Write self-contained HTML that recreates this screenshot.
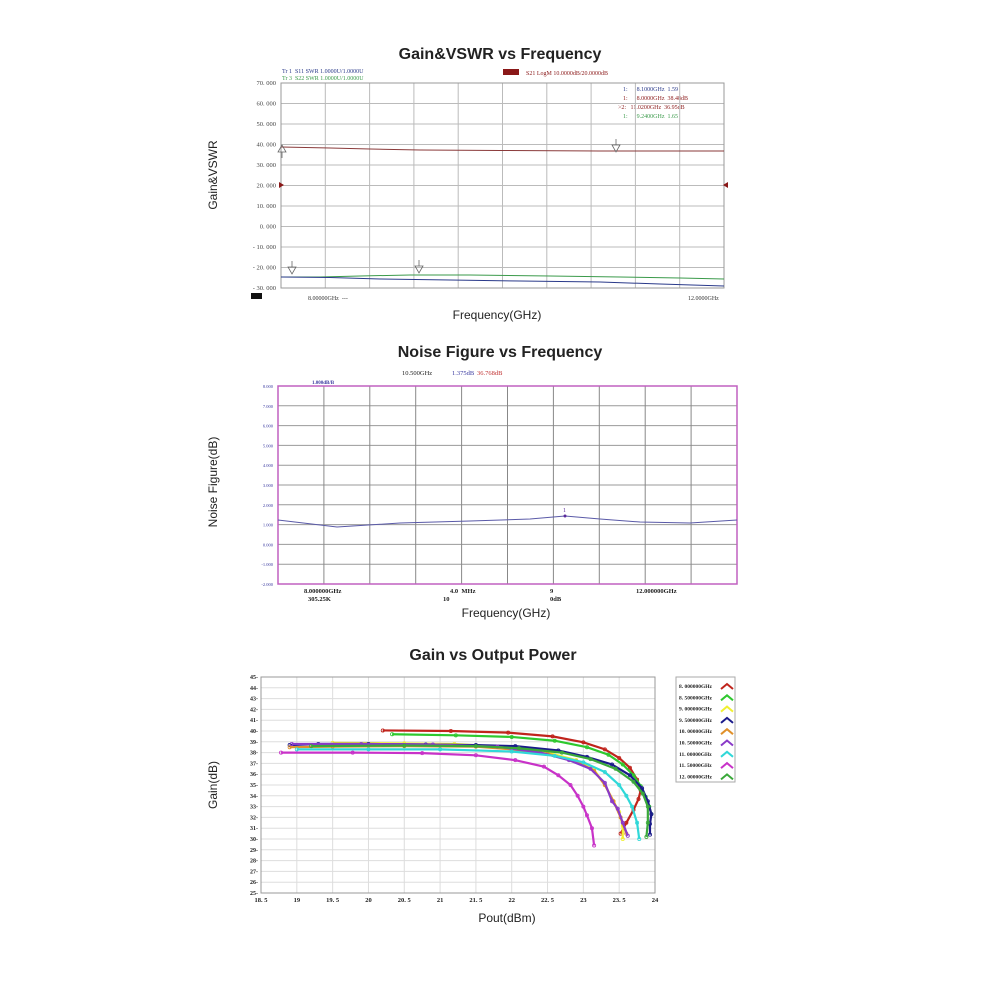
<!DOCTYPE html>
<html><head><meta charset="utf-8"><style>
body{margin:0;background:#fff;width:1000px;height:1000px;overflow:hidden}
svg{display:block}
text{font-family:"Liberation Serif",serif;white-space:pre}
.t{font-family:"Liberation Sans",sans-serif;font-weight:bold;font-size:16px;fill:#222}
.l{font-family:"Liberation Sans",sans-serif;font-size:12px;fill:#222}
</style></head><body>
<svg id="s" width="1000" height="1000" xmlns="http://www.w3.org/2000/svg">
<text class="t" x="500" y="59" text-anchor="middle">Gain&amp;VSWR vs Frequency</text>
<text class="l" x="0" y="0" text-anchor="middle" transform="translate(217,175) rotate(-90)">Gain&amp;VSWR</text>
<text class="l" x="497" y="319" text-anchor="middle">Frequency(GHz)</text>
<text class="t" x="500" y="357" text-anchor="middle">Noise Figure vs Frequency</text>
<text class="l" x="0" y="0" text-anchor="middle" transform="translate(217,482) rotate(-90)">Noise Figure(dB)</text>
<text class="l" x="506" y="617" text-anchor="middle">Frequency(GHz)</text>
<text class="t" x="493" y="660" text-anchor="middle">Gain vs Output Power</text>
<text class="l" x="0" y="0" text-anchor="middle" transform="translate(217,785) rotate(-90)">Gain(dB)</text>
<text class="l" x="507" y="922" text-anchor="middle">Pout(dBm)</text>

<text x="282" y="73" font-size="6" fill="#2a3a8a">Tr 1  S11 SWR 1.0000U/1.0000U</text>
<text x="282" y="80" font-size="6" fill="#3a9a4a">Tr 3  S22 SWR 1.0000U/1.0000U</text>
<rect x="503" y="69" width="16" height="6" fill="#8a1818"/>
<text x="526" y="75" font-size="6" fill="#8a1818">S21 LogM 10.0000dB/20.0000dB</text>
<text x="623" y="91" font-size="6" fill="#2a3a8a">1:      8.1000GHz  1.59</text>
<text x="623" y="100" font-size="6" fill="#8a1818">1:      8.0000GHz  38.48dB</text>
<text x="618" y="109" font-size="6" fill="#8a1818">&gt;2:   11.0200GHz  36.95dB</text>
<text x="623" y="118" font-size="6" fill="#3a9a4a">1:      9.2400GHz  1.65</text>
<rect x="251" y="293" width="11" height="6" fill="#111"/>
<text x="308" y="300" font-size="6" fill="#333">8.00000GHz  ---</text>
<text x="688" y="300" font-size="6" fill="#333">12.0000GHz</text>

<text x="402" y="375" font-size="6.5" fill="#222">10.500GHz</text>
<text x="452" y="375" font-size="6.5" fill="#3a3aa0">1.375dB</text>
<text x="477" y="375" font-size="6.5" fill="#c03030">36.768dB</text>
<text x="312" y="384" font-size="5" fill="#3a3aa0" font-weight="bold">1.000dB/B</text>
<g font-size="6.5" fill="#222" font-weight="bold">
<text x="304" y="593">8.000000GHz</text><text x="308" y="601">305.25K</text>
<text x="450" y="593">4.0  MHz</text><text x="443" y="601">10</text>
<text x="550" y="593">9</text><text x="550" y="601">0dB</text>
<text x="636" y="593">12.000000GHz</text>
</g>
<g id="dyn"></g>
</svg>
<script>
const NS="http://www.w3.org/2000/svg",g=document.getElementById("dyn");
function el(t,a,txt){const e=document.createElementNS(NS,t);for(const k in a)e.setAttribute(k,a[k]);if(txt!==undefined)e.textContent=txt;g.appendChild(e);return e;}
function line(x1,y1,x2,y2,c,w){el("line",{x1,y1,x2,y2,stroke:c,"stroke-width":w||1});}
{const L=281,R=724,T=83,B=288;
for(let i=0;i<=10;i++){const y=T+(B-T)*i/10;line(L,y,R,y,"#bbb");el("text",{x:L-5,y:y+2,"font-size":6.5,"text-anchor":"end",fill:"#444"},(70-10*i).toFixed(3).replace(".",". ").replace("-","- "));}
for(let i=1;i<10;i++){const x=L+(R-L)*i/10;line(x,T,x,B,"#bbb");}
el("rect",{x:L,y:T,width:R-L,height:B-T,fill:"none",stroke:"#999"});
el("polyline",{points:`${L},147 330,148 370,149 420,150 500,150.5 600,151 ${R},151`,fill:"none",stroke:"#8a3a3a","stroke-width":1});
el("polyline",{points:`${L},277 320,277 360,276 410,275 470,275 550,276 620,277 680,278 ${R},279`,fill:"none",stroke:"#3a9a4a","stroke-width":1});
el("polyline",{points:`${L},277 330,277.5 380,279 450,280 520,281 600,282 660,284 ${R},286`,fill:"none",stroke:"#2a3a8a","stroke-width":1});
el("path",{d:"M279,182 l5,3 l-5,3z",fill:"#8a1818"});el("path",{d:"M728,182 l-5,3 l5,3z",fill:"#8a1818"});
[[282,152,-1],[292,267,1],[419,266,1],[616,145,1]].forEach(([x,y,d])=>{el("path",{d:d>0?`M${x-4},${y} h8 l-4,7z M${x},${y-6} v6`:`M${x-4},${y} h8 l-4,-7z M${x},${y} v6`,fill:"none",stroke:"#666","stroke-width":0.8});});
}
{const L=278,R=737,T=386,B=584;
for(let i=0;i<=10;i++){const y=T+(B-T)*i/10;line(L,y,R,y,"#999");el("text",{x:L-5,y:y+2,"font-size":4.5,"text-anchor":"end",fill:"#3a3aa0"},(8-i).toFixed(3));}
for(let i=1;i<10;i++){const x=L+(R-L)*i/10;line(x,T,x,B,"#888");}
el("rect",{x:L,y:T,width:R-L,height:B-T,fill:"none",stroke:"#c060c0","stroke-width":1.5});
el("polyline",{points:`${L},520 337,527 400,523 470,521 530,519 565,516 600,519 640,522 690,523 ${R},520`,fill:"none",stroke:"#5a5aa8","stroke-width":1});
el("circle",{cx:565,cy:516,r:1.5,fill:"#5a2a9a"});el("text",{x:563,y:512,"font-size":6,fill:"#5a2a9a"},"1");
}
{const L=261,R=655,T=677,B=893;const X=v=>L+(v-18.5)*(R-L)/5.5,Y=v=>T+(45-v)*(B-T)/20;
for(let i=0;i<=20;i++){const y=Y(45-i);line(L,y,R,y,"#ddd");el("text",{x:L-3,y:y+2,"font-size":6,"text-anchor":"end",fill:"#222","font-weight":"bold"},(45-i)+"-");}
for(let i=0;i<=11;i++){const v=18.5+i*0.5,x=X(v);line(x,T,x,B,"#ddd");el("text",{x:x,y:B+9,"font-size":6.5,"text-anchor":"middle",fill:"#222","font-weight":"bold"},(v%1?v.toFixed(1).replace("."," ."):v.toString()).replace(" .",". "));}
el("rect",{x:L,y:T,width:R-L,height:B-T,fill:"none",stroke:"#999"});
const S=[
["#c0241c","8.000000GHz",[[20.2,40.05],[21.15,40],[21.95,39.85],[22.57,39.5],[23,38.95],[23.3,38.3],[23.5,37.5],[23.65,36.6],[23.75,35.5],[23.8,34.5],[23.77,33.7],[23.7,32.7],[23.6,31.5],[23.52,30.5]]],
["#2ec82e","8.500000GHz",[[20.33,39.7],[21.22,39.6],[22,39.45],[22.6,39.1],[23.05,38.5],[23.35,37.8],[23.55,36.9],[23.7,35.9],[23.8,34.9],[23.87,33.9],[23.92,33],[23.95,32.3]]],
["#f0f030","9.000000GHz",[[19.5,38.9],[20.5,38.85],[21.2,38.8],[22,38.5],[22.5,38],[22.9,37.3],[23.15,36.4],[23.3,35],[23.42,33.5],[23.5,32.5],[23.55,31.2],[23.55,30]]],
["#1a1a8a","9.500000GHz",[[18.9,38.7],[19.3,38.8],[20,38.8],[20.8,38.75],[21.5,38.7],[22.05,38.6],[22.65,38.2],[23.05,37.6],[23.4,36.9],[23.65,35.9],[23.82,34.7],[23.9,33.5],[23.95,32.3],[23.93,31.4],[23.93,30.4]]],
["#e0902a","10.00000GHz",[[18.9,38.5],[19.5,38.55],[20.5,38.6],[21.5,38.55],[22,38.3],[22.5,37.9],[22.9,37.2],[23.15,36.3],[23.3,35],[23.42,33.5],[23.52,32],[23.6,30.5]]],
["#8a3ac8","10.50000GHz",[[18.93,38.8],[19.9,38.8],[20.9,38.75],[21.8,38.55],[22.4,38],[22.8,37.3],[23.1,36.5],[23.3,35.2],[23.4,33.5],[23.48,32.8],[23.55,31.5],[23.62,30.3]]],
["#30d8d8","11.00000GHz",[[19,38.3],[20,38.3],[21,38.3],[22,38.1],[22.6,37.7],[23,37.1],[23.3,36.2],[23.5,35],[23.6,34],[23.68,33],[23.75,31.5],[23.78,30]]],
["#c832c8","11.50000GHz",[[18.78,38],[19.78,38],[20.75,37.95],[21.5,37.75],[22.05,37.3],[22.45,36.7],[22.65,35.9],[22.82,35],[22.92,34],[23,33],[23.05,32.2],[23.12,31],[23.15,29.4]]],
["#3aa83a","12.00000GHz",[[19.2,38.6],[20.5,38.65],[21.5,38.6],[22.1,38.4],[22.7,38],[23.1,37.4],[23.45,36.5],[23.7,35.3],[23.83,34.2],[23.9,33],[23.9,31.5],[23.88,30.2]]]];
S.forEach(([c,n,p],i)=>{el("polyline",{points:p.map(q=>X(q[0])+","+Y(q[1])).join(" "),fill:"none",stroke:c,"stroke-width":2.2});
p.forEach(q=>el("circle",{cx:X(q[0]),cy:Y(q[1]),r:1.6,fill:"none",stroke:c,"stroke-width":0.8}));
const ly=686+i*11.3;el("text",{x:679,y:ly+2,"font-size":5.5,fill:"#222","font-weight":"bold"},n.replace(/^(\d+)\./,"$1. "));
el("polyline",{points:`${721},${ly+3} ${727},${ly-2} ${733},${ly+3}`,fill:"none",stroke:c,"stroke-width":2});});
el("rect",{x:676,y:677,width:59,height:105,fill:"none",stroke:"#aaa"});
}
</script>
</body></html>
